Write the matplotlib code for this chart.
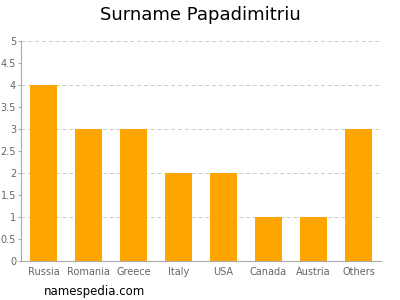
import numpy as np
import matplotlib
matplotlib.use("Agg")
import matplotlib.pyplot as plt

# ====== DATA ======
countries = ["Russia", "Romania", "Greece", "Italy", "USA", "Canada", "Austria", "Others"]
counts = [4, 3, 3, 2, 2, 1, 1, 3]
y_ticks = [0, 0.5, 1, 1.5, 2, 2.5, 3, 3.5, 4, 4.5, 5]
y_tick_labels = ["0", "0.5", "1", "1.5", "2", "2.5", "3", "3.5", "4", "4.5", "5"]

fig = plt.figure(figsize=(4, 3), dpi=100)
ax = fig.add_axes([0.0525, 0.13, 0.9, 0.7333])

# grid jen na celých číslech
for v in range(1, 6):
    ax.axhline(v, color="#cccccc", linestyle=(0, (4, 3)), linewidth=0.7, zorder=0)

x = np.arange(len(countries))
ax.bar(x, counts, width=0.62, color="#FFA500", zorder=2)

ax.set_xlim(-0.5, len(countries) - 0.5)
ax.set_ylim(0, 5)
ax.set_xticks(x)
ax.set_xticklabels(countries, fontsize=7, color="#666666")
ax.set_yticks(y_ticks)
ax.set_yticklabels(y_tick_labels, fontsize=7, color="#666666")
ax.tick_params(axis="x", length=0, pad=4)
ax.tick_params(axis="y", length=2.5, color="#aaaaaa", pad=1)

ax.spines["top"].set_visible(False)
ax.spines["right"].set_visible(False)
ax.spines["left"].set_color("#aaaaaa")
ax.spines["bottom"].set_color("#aaaaaa")

fig.text(0.5, 0.95, "Surname Papadimitriu", ha="center", va="center", fontsize=13)
fig.text(0.11, 0.03, "namespedia.com", ha="left", va="center", fontsize=8.5)

fig.savefig("out.png", dpi=100)
